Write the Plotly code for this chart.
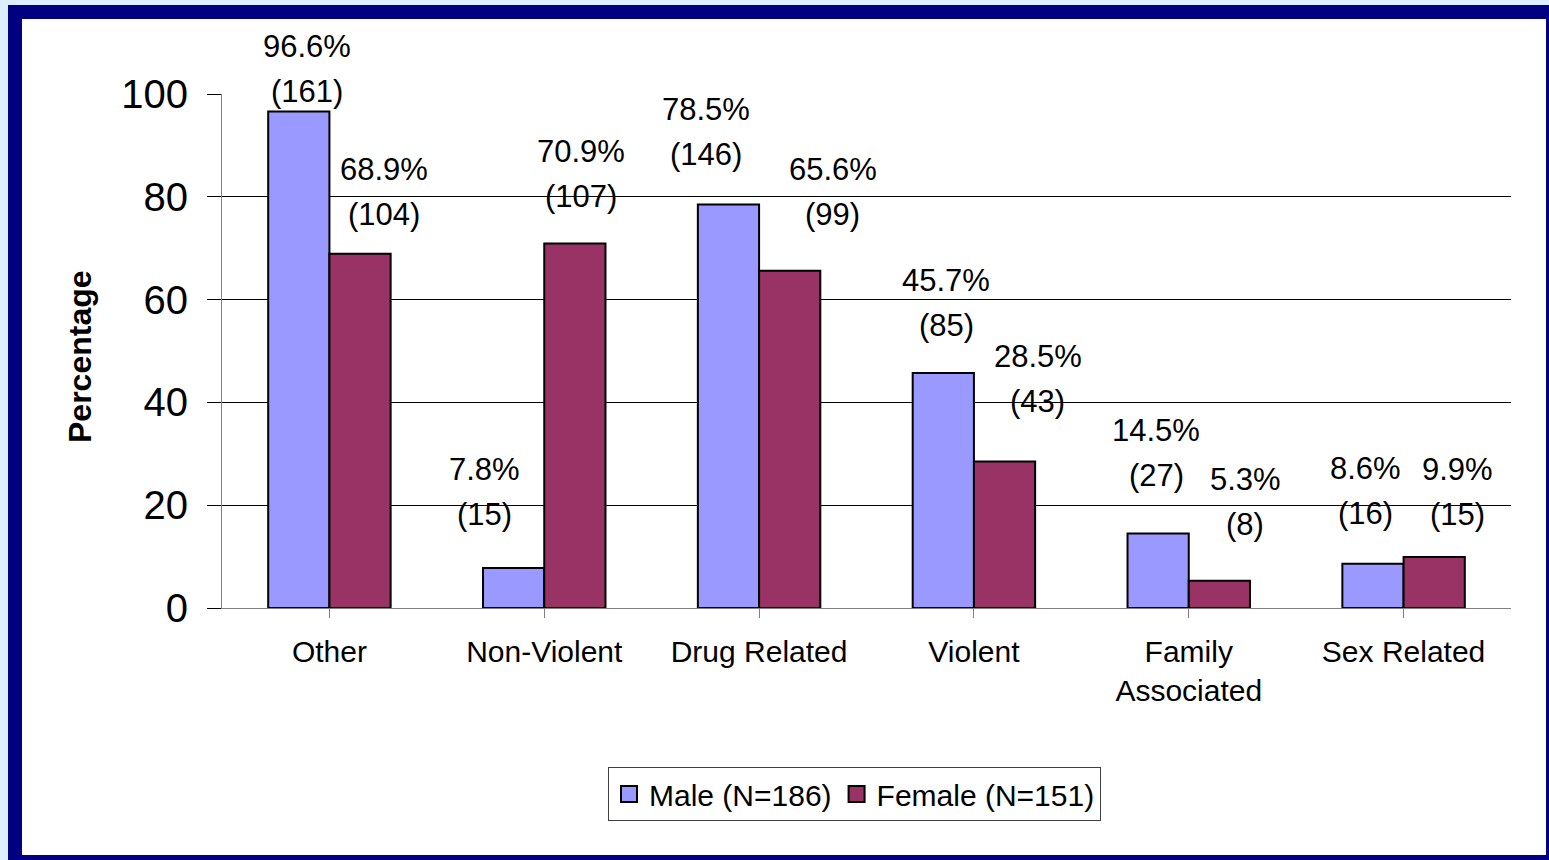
import plotly.graph_objects as go

# ---------------- data ----------------
categories = ["Other", "Non-Violent", "Drug Related", "Violent", "Family<br>Associated", "Sex Related"]
male_pct = [96.6, 7.8, 78.5, 45.7, 14.5, 8.6]
female_pct = [68.9, 70.9, 65.6, 28.5, 5.3, 9.9]
male_n = [161, 15, 146, 85, 27, 16]
female_n = [104, 107, 99, 43, 8, 15]
male_name = "Male (N=186)"
female_name = "Female (N=151)"
y_ticks = [0, 20, 40, 60, 80, 100]

# ---------------- style / layout ----------------
W, H = 1549, 860
ML, MR, MT, MB = 222, 38, 94, 252
PW, PH = W - ML - MR, H - MT - MB
FONT = "Liberation Sans, Arial, sans-serif"
MALE_C = "#9999FF"
FEMALE_C = "#993366"
NAVY = "#000080"
BG = "#DDEFFF"
BARGAP = 0.43
LINE_GAP = 45  # px between the two lines of a data label
# manual label placement (pixels): horizontal nudge, and height of the
# "(n)" line above the bar top -- as the labels were dragged in the original
male_label_dx = [8, -29, -22, 3, -2, -7]
male_label_dy = [20, 53, 50, 48, 58, 50]
female_label_dx = [24, 6, 43, 33, 26, 23]
female_label_dy = [39, 47, 56, 60, 56, 43]


def px_x(p):
    return (p - ML) / PW


def px_y(p):
    return (H - MB - p) / PH


idx = list(range(len(categories)))
half = (1 - BARGAP) / 4  # offset of each bar centre from category centre

fig = go.Figure()
fig.add_trace(go.Bar(x=idx, y=male_pct, name=male_name, marker_color=MALE_C,
                     marker_line=dict(color="black", width=2), showlegend=False))
fig.add_trace(go.Bar(x=idx, y=female_pct, name=female_name, marker_color=FEMALE_C,
                     marker_line=dict(color="black", width=2), showlegend=False))
# legend entries
for nm, c in [(male_name, MALE_C), (female_name, FEMALE_C)]:
    fig.add_trace(go.Scatter(x=[None], y=[None], mode="markers", name=nm,
                             marker=dict(symbol="square", size=16, color=c,
                                         line=dict(color="black", width=2))))

lab_font = dict(size=31, color="black", family=FONT)
annotations = []
for i in idx:
    for off, v, n, dx, dy in [(-half, male_pct[i], male_n[i], male_label_dx[i], male_label_dy[i]),
                              (half, female_pct[i], female_n[i], female_label_dx[i], female_label_dy[i])]:
        annotations.append(dict(x=i + off, y=v, xref="x", yref="y", text=f"({n})",
                                showarrow=False, yanchor="middle", xanchor="center",
                                xshift=dx, yshift=dy, font=lab_font))
        annotations.append(dict(x=i + off, y=v, xref="x", yref="y", text=f"{v}%",
                                showarrow=False, yanchor="middle", xanchor="center",
                                xshift=dx, yshift=dy + LINE_GAP, font=lab_font))
annotations.append(dict(x=px_x(80), y=px_y(357), xref="paper", yref="paper",
                        text="<b>Percentage</b>", textangle=-90, showarrow=False,
                        xanchor="center", yanchor="middle",
                        font=dict(size=32, color="black", family=FONT)))

shapes = [
    dict(type="rect", xref="paper", yref="paper", x0=px_x(8), x1=px_x(W), y0=px_y(H), y1=px_y(5),
         fillcolor=NAVY, line=dict(width=0), layer="below"),
    dict(type="rect", xref="paper", yref="paper", x0=px_x(22), x1=px_x(1546), y0=px_y(855), y1=px_y(19),
         fillcolor="white", line=dict(width=0), layer="below"),
]

fig.update_layout(
    width=W, height=H,
    margin=dict(l=ML, r=MR, t=MT, b=MB, pad=0),
    paper_bgcolor=BG, plot_bgcolor="rgba(0,0,0,0)",
    barmode="group", bargap=BARGAP, bargroupgap=0,
    font=dict(family=FONT, color="black"),
    annotations=annotations, shapes=shapes,
    legend=dict(orientation="h", xanchor="left", yanchor="top",
                x=px_x(608), y=px_y(767),
                bordercolor="#404040", borderwidth=1, bgcolor="white",
                font=dict(size=30, family=FONT, color="black")),
    xaxis=dict(tickmode="array", tickvals=idx, ticktext=categories,
               range=[-0.5, len(categories) - 0.5],
               tickson="boundaries", ticks="outside", ticklen=9, tickcolor="#808080",
               showline=True, linecolor="#808080", linewidth=1,
               showgrid=False, zeroline=False, ticklabelstandoff=8,
               tickfont=dict(size=30, family=FONT, color="black")),
    yaxis=dict(range=[0, 100], tickvals=y_ticks, ticks="outside", ticklen=14,
               tickcolor="black", showline=True, linecolor="#808080", linewidth=1,
               showgrid=True, gridcolor="black", gridwidth=1, zeroline=False,
               ticklabelstandoff=11,
               tickfont=dict(size=40, family=FONT, color="black")),
)

fig.write_html("out.html", config={"displayModeBar": False},
               post_script="document.body.style.margin='0px';")
